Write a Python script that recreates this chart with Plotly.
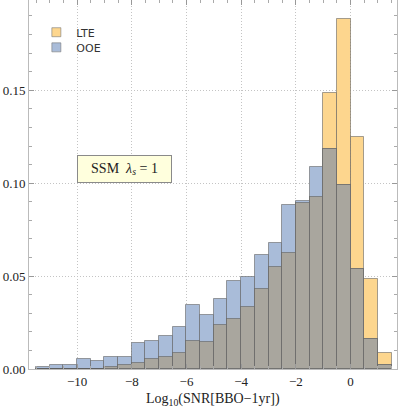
import plotly.graph_objects as go

# --- DATA ---
bin_centers = [-11.25, -10.75, -10.25, -9.75, -9.25, -8.75, -8.25, -7.75, -7.25, -6.75,
               -6.25, -5.75, -5.25, -4.75, -4.25, -3.75, -3.25, -2.75, -2.25, -1.75,
               -1.25, -0.75, -0.25, 0.25, 0.75, 1.25]
ooe = [0.0010, 0.0023, 0.0023, 0.0054, 0.0043, 0.0065, 0.0065, 0.0140, 0.0150, 0.0180,
       0.0227, 0.0344, 0.0290, 0.0378, 0.0473, 0.0495, 0.0614, 0.0677, 0.0883, 0.0903,
       0.1086, 0.1183, 0.0991, 0.0536, 0.0159, 0.0023]
lte = [0.0, 0.0, 0.0, 0.0, 0.0, 0.0010, 0.0020, 0.0033, 0.0054, 0.0065,
       0.0085, 0.0150, 0.0148, 0.0236, 0.0268, 0.0333, 0.0430, 0.0548, 0.0624, 0.0894,
       0.0925, 0.1484, 0.1885, 0.1250, 0.0484, 0.0084]
x_ticks = [-10, -8, -6, -4, -2, 0]
y_ticks = [0.0, 0.05, 0.10, 0.15]

bin_width = 0.5
overlap = [min(a, b) for a, b in zip(lte, ooe)]

ORANGE = "#FDD68E"
BLUE = "#A9BCD9"
GRAY = "#A9A69E"
EDGE = "rgba(90,90,90,0.55)"

fig = go.Figure()
fig.add_trace(go.Bar(x=bin_centers, y=lte, width=bin_width, showlegend=False,
                     marker=dict(color=ORANGE, line=dict(color=EDGE, width=1))))
fig.add_trace(go.Bar(x=bin_centers, y=ooe, width=bin_width, showlegend=False,
                     marker=dict(color=BLUE, line=dict(color=EDGE, width=1))))
# overlap region (where both histograms cover the bin)
fig.add_trace(go.Bar(x=bin_centers, y=overlap, width=bin_width, showlegend=False,
                     marker=dict(color=GRAY, line=dict(color=EDGE, width=1))))

# legend entries as small squares, one legend box each for tight spacing
for name, col, lg in [("LTE", ORANGE, "legend"), ("OOE", BLUE, "legend2")]:
    fig.add_trace(go.Scatter(x=[None], y=[None], mode="markers", name=name, legend=lg,
                             marker=dict(symbol="square", size=9, color=col,
                                         line=dict(color="rgba(120,120,120,0.6)", width=1))))

fig.add_annotation(x=-8.27, y=0.1077, xref="x", yref="y",
                   text="SSM  <i>λ</i><sub><i>s</i></sub> = 1", showarrow=False,
                   font=dict(family="Liberation Serif", size=14, color="#222222"),
                   bgcolor="#FFFFDD", bordercolor="#8a8a8a", borderwidth=1,
                   borderpad=3, width=87, height=20)

fig.add_annotation(x=0.5, y=-0.084, xref="paper", yref="paper",
                   text="Log<sub>10</sub>(SNR[BBO\u22121yr])", showarrow=False,
                   xanchor="center", yanchor="middle",
                   font=dict(family="Liberation Serif", size=14, color="#222222"))

serif = dict(family="Liberation Serif", size=13, color="#222222")
grid = dict(showgrid=True, gridcolor="#c4c4c4", griddash="1px,2px", gridwidth=1)
leg_font = dict(family="DejaVu Sans", size=11, color="#333333")

fig.update_layout(
    width=399, height=414,
    margin=dict(l=29, r=2, t=0, b=45),
    paper_bgcolor="white", plot_bgcolor="white",
    barmode="overlay", bargap=0,
    showlegend=True,
    legend=dict(x=0.02, y=0.952, xanchor="left", yanchor="top",
                bgcolor="rgba(0,0,0,0)", font=leg_font, itemwidth=30),
    legend2=dict(x=0.02, y=0.911, xanchor="left", yanchor="top",
                 bgcolor="rgba(0,0,0,0)", font=leg_font, itemwidth=30),
    xaxis=dict(range=[-11.76, 1.70], tickvals=x_ticks,
               ticktext=["\u2212" + str(abs(v)) if v < 0 else str(v) for v in x_ticks],
               tickfont=serif, ticks="inside", ticklen=5, tickcolor="#999999",
               showline=True, linecolor="#bbbbbb", linewidth=1, mirror="ticks",
               zeroline=False, automargin=False, **grid,
               minor=dict(dtick=0.5, tick0=0, ticks="inside", ticklen=3, tickcolor="#aaaaaa")),
    yaxis=dict(range=[0, 0.1986], tickvals=y_ticks,
               ticktext=["%.2f" % v for v in y_ticks],
               tickfont=serif, ticks="inside", ticklen=5, tickcolor="#999999",
               showline=True, linecolor="#bbbbbb", linewidth=1, mirror="ticks",
               zeroline=False, automargin=False, **grid,
               minor=dict(dtick=0.01, tick0=0, ticks="inside", ticklen=3, tickcolor="#aaaaaa")),
)

# remove the browser's default page margin so the figure sits at the window corner
fig.write_html("out.html", config={"displayModeBar": False},
               post_script="document.body.style.margin='0';")
